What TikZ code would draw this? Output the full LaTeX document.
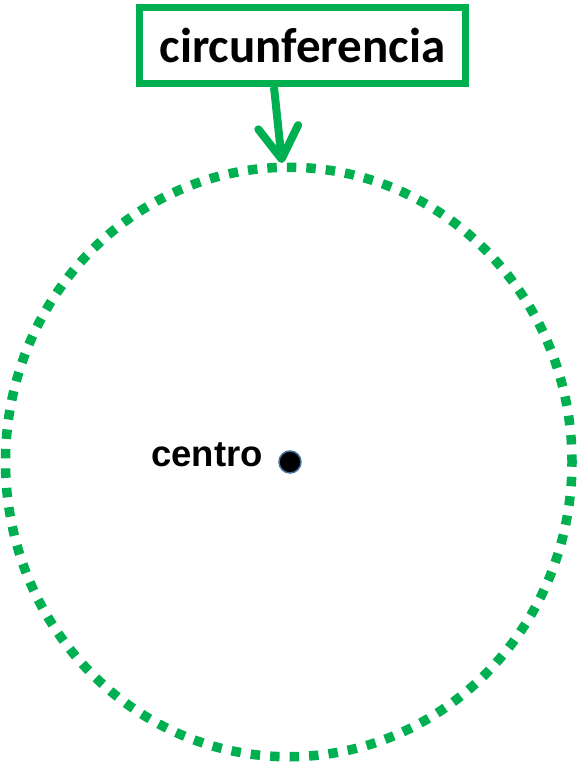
\documentclass[tikz,border=0pt]{standalone}
\usepackage{fontspec}
\setmainfont{Carlito}
\newfontfamily\arialfont{Liberation Sans}
\usetikzlibrary{arrows.meta}
\definecolor{verde}{HTML}{00B050}
\definecolor{borde}{HTML}{41719C}
\begin{document}
\begin{tikzpicture}[x=1pt,y=-1pt] % 1pt per pixel
      \useasboundingbox (0,0) rectangle (577,762);
      % Dotted circumference
      \draw[verde, line width=9.5pt, dash pattern=on 9.5pt off 10pt, dash phase=4.75pt]
        (288.75,462) coordinate (O) ellipse [x radius=283.25, y radius=294.75];
      \coordinate (T) at (282,163);
      % Label box
      \node[draw=verde, line width=7pt, minimum width=326pt, minimum height=76pt, inner sep=0pt,
            font=\bfseries\fontsize{49}{58}\selectfont]
        (circ) at (302.5,45.5) {circunferencia};
      \draw[verde, line width=8pt, -{Straight Barb[length=32pt,width=40pt,round]}]
        ([xshift=-28.5pt]circ.south) -- (T);
      % Centre
      \filldraw[fill=black, draw=borde, line width=1.5pt] (290,462) circle [radius=11] coordinate (C);
      \node[anchor=base west, inner sep=0pt, font=\arialfont\bfseries\fontsize{36.5}{44}\selectfont]
        (centro) at (151,466) {centro};
    \end{tikzpicture}
\end{document}
